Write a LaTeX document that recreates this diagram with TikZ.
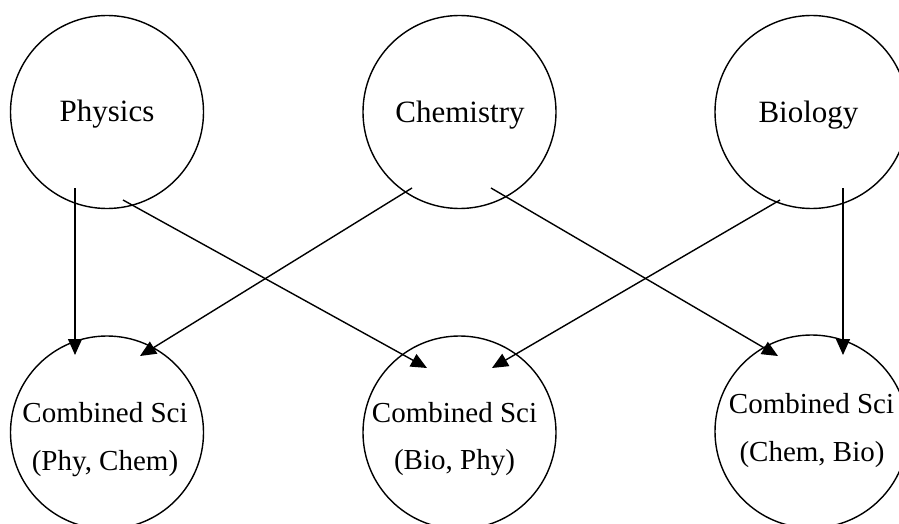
\documentclass[tikz,border=0pt]{standalone}
\usepackage{fontspec}
\setmainfont{Liberation Serif}
\usetikzlibrary{arrows.meta,calc}
\begin{document}
\begin{tikzpicture}[x=1pt,y=-1pt,
  ring/.style={draw,circle,line width=1.4pt,minimum size=193pt,inner sep=0pt},
  toplbl/.style={anchor=base,inner sep=0pt,font=\fontsize{31}{37}\selectfont},
  botlbl/.style={anchor=base,inner sep=0pt,font=\fontsize{29}{35}\selectfont},
  arr/.style={line width=1.4pt,-{Triangle[length=16pt,width=14pt]}}]
\useasboundingbox (0,0) rectangle (899,524);
\clip (0,0) rectangle (899,524);
% top circles
\node[ring] (phy) at (107,112) {};
\node[ring] (chem) at (459.5,112) {};
\node[ring] (bio) at (811.5,112) {};
% bottom circles
\node[ring] (pc) at (107,432.5) {};
\node[ring] (bp) at (459.5,432.5) {};
\node[ring] (cb) at (811.5,431.5) {};
% labels
\node[toplbl] (tphy) at (107,121.7) {Physics};
\node[toplbl] (tchem) at (460,123) {Chemistry};
\node[toplbl] (tbio) at (808.5,123) {Biology};
\node[botlbl] (pca) at (105,422) {Combined Sci};
\node[botlbl] (pcb) at (105,470) {(Phy, Chem)};
\node[botlbl] (bpa) at (454.5,422) {Combined Sci};
\node[botlbl] (bpb) at (454.5,469) {(Bio, Phy)};
\node[botlbl] (cba) at (811.5,413) {Combined Sci};
\node[botlbl] (cbb) at (812,461) {(Chem, Bio)};
% arrows
\draw[arr] ($(phy)+(-32,76)$) -- ($(pc)+(-32,-77.5)$);
\draw[arr] ($(phy)+(16,88)$) -- ($(bp)+(-32.5,-64.5)$);
\draw[arr] ($(chem)+(-47.5,76)$) -- ($(pc)+(33,-76.5)$);
\draw[arr] ($(chem)+(31.5,76)$) -- ($(cb)+(-33.5,-75.5)$);
\draw[arr] ($(bio)+(-31.5,88)$) -- ($(bp)+(32.5,-64.5)$);
\draw[arr] ($(bio)+(31.5,76)$) -- ($(cb)+(31.5,-76.5)$);
\end{tikzpicture}
\end{document}
